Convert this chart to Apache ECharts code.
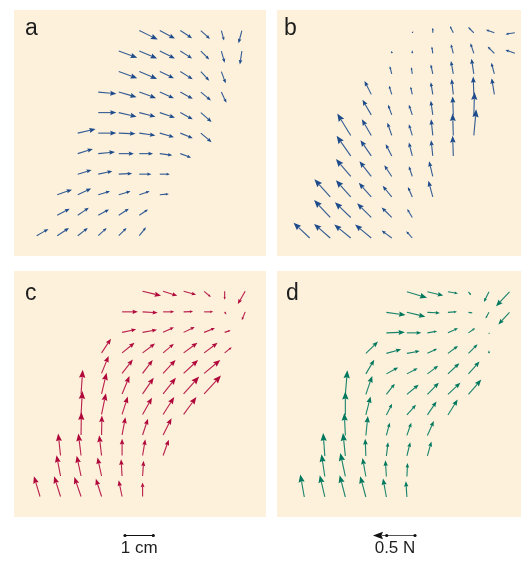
<!DOCTYPE html>
<html>
<head>
<meta charset="utf-8">
<script src="https://cdn.jsdelivr.net/npm/echarts@6/dist/echarts.min.js"></script>
<style>
  html, body { margin: 0; padding: 0; background: #ffffff; }
  #chart { width: 522px; height: 563px; }
</style>
</head>
<body>
<div id="chart"></div>
<script>
// Workspace sample points sit on a square grid; each entry is
// [column, row, Fx (mN), Fy (mN)] with y pointing up.
const GRID_PITCH_CM = 0.725;   // spacing between sample points
const CM_PER_N = 2.97;         // drawing scale for force vectors
const SCALE_LENGTH_CM = 1;     // length scale bar
const SCALE_FORCE_N = 0.5;     // force scale arrow

const fieldA = [
  [0,0,140,80],[1,0,140,92],[2,0,120,92],[3,0,100,92],[4,0,92,92],[5,0,80,100],
  [1,1,148,76],[2,1,132,88],[3,1,128,68],[4,1,120,76],[5,1,104,68],
  [1,2,176,60],[2,2,160,72],[3,2,140,40],[4,2,140,40],[5,2,124,40],[6,2,108,8],
  [2,3,164,48],[3,3,168,36],[4,3,160,8],[5,3,144,0],[6,3,120,0],
  [2,4,180,56],[3,4,200,20],[4,4,180,0],[5,4,164,0],[6,4,148,-20],[7,4,128,-48],
  [2,5,212,48],[3,5,216,0],[4,5,200,-8],[5,5,192,-28],[6,5,168,-48],[7,5,148,-60],[8,5,128,-108],
  [3,6,216,0],[4,6,212,-48],[5,6,192,-48],[6,6,180,-60],[7,6,148,-80],[8,6,128,-112],
  [3,7,216,-20],[4,7,212,-60],[5,7,200,-72],[6,7,168,-72],[7,7,148,-80],[8,7,120,-100],[9,7,60,-128],
  [4,8,220,-80],[5,8,212,-88],[6,8,168,-80],[7,8,148,-92],[8,8,100,-108],[9,8,52,-140],
  [4,9,220,-80],[5,9,212,-88],[6,9,180,-88],[7,9,140,-88],[8,9,100,-100],[9,9,40,-140],[10,9,-24,-160],
  [5,10,220,-108],[6,10,180,-96],[7,10,140,-92],[8,10,108,-100],[9,10,32,-120],[10,10,-40,-152]
];

const fieldB = [
  [0,0,-192,180],[1,0,-192,168],[2,0,-196,160],[3,0,-192,160],[4,0,-120,88],[5,0,-72,80],
  [1,1,-192,208],[2,1,-188,180],[3,1,-168,168],[4,1,-120,120],[5,1,-60,100],
  [1,2,-188,212],[2,2,-176,200],[3,2,-148,168],[4,2,-108,132],[5,2,-52,120],[6,2,-52,192],
  [2,3,-176,208],[3,3,-140,180],[4,3,-88,132],[5,3,-40,120],[6,3,-44,180],
  [2,4,-168,240],[3,4,-128,188],[4,4,-72,140],[5,4,-40,160],[6,4,-20,188],[7,4,-8,240],
  [2,5,-160,260],[3,5,-112,192],[4,5,-52,152],[5,5,-40,132],[6,5,-20,192],[7,5,-8,260],[8,5,28,312],
  [3,6,-104,180],[4,6,-44,120],[5,6,-40,120],[6,6,-24,168],[7,6,-8,220],[8,6,8,272],
  [3,7,-80,160],[4,7,-32,104],[5,7,-20,92],[6,7,-24,144],[7,7,-20,184],[8,7,-8,212],[9,7,-32,192],
  [4,8,-24,92],[5,8,-12,80],[6,8,-24,112],[7,8,-28,152],[8,8,-28,180],[9,8,-36,132],
  [4,9,0,32],[5,9,0,36],[6,9,-12,80],[7,9,-28,108],[8,9,-40,120],[9,9,-80,80],[10,9,-112,40],
  [5,10,12,20],[6,10,0,60],[7,10,-40,80],[8,10,-68,68],[9,10,-100,36],[10,10,-112,-16]
];

const fieldC = [
  [0,0,-72,240],[1,0,-76,240],[2,0,-80,232],[3,0,-68,212],[4,0,-40,192],[5,0,0,168],
  [1,1,-48,248],[2,1,-52,240],[3,1,-48,220],[4,1,-12,200],[5,1,12,180],
  [1,2,-28,260],[2,2,-32,260],[3,2,-28,240],[4,2,0,200],[5,2,32,192],[6,2,68,188],
  [2,3,4,272],[3,3,4,232],[4,3,40,212],[5,3,64,192],[6,3,100,200],
  [2,4,16,280],[3,4,52,252],[4,4,68,212],[5,4,112,200],[6,4,132,208],[7,4,152,208],
  [2,5,20,288],[3,5,60,252],[4,5,88,212],[5,5,132,192],[6,5,152,192],[7,5,184,208],[8,5,200,220],
  [3,6,84,208],[4,6,128,164],[5,6,120,160],[6,6,148,160],[7,6,172,160],[8,6,192,160],
  [3,7,112,168],[4,7,148,120],[5,7,148,112],[6,7,128,108],[7,7,164,120],[8,7,160,120],[9,7,84,68],
  [4,8,168,36],[5,8,172,32],[6,8,128,60],[7,8,132,64],[8,8,128,52],[9,8,72,24],
  [4,9,188,0],[5,9,180,-12],[6,9,132,0],[7,9,112,4],[8,9,108,0],[9,9,20,-32],[10,9,-40,-100],
  [5,10,220,-52],[6,10,168,-52],[7,10,148,-40],[8,10,80,-68],[9,10,0,-100],[10,10,-88,-152]
];

const fieldD = [
  [0,0,-48,268],[1,0,-60,260],[2,0,-68,260],[3,0,-68,248],[4,0,-40,220],[5,0,-12,188],
  [1,1,-40,264],[2,1,-60,280],[3,1,-40,220],[4,1,-12,192],[5,1,8,160],
  [1,2,-20,272],[2,2,-28,272],[3,2,-8,204],[4,2,20,164],[5,2,40,164],[6,2,48,172],
  [2,3,-12,268],[3,3,24,232],[4,3,40,152],[5,3,52,152],[6,3,76,172],
  [2,4,0,280],[3,4,56,220],[4,4,68,132],[5,4,108,120],[6,4,108,160],[7,4,116,184],
  [2,5,24,288],[3,5,76,220],[4,5,100,128],[5,5,140,116],[6,5,136,140],[7,5,148,140],[8,5,152,176],
  [3,6,100,168],[4,6,140,76],[5,6,128,68],[6,6,128,96],[7,6,136,128],[8,6,132,148],
  [3,7,144,140],[4,7,176,48],[5,7,152,28],[6,7,116,56],[7,7,120,88],[8,7,108,108],[9,7,0,36],
  [4,8,220,8],[5,8,172,0],[6,8,116,20],[7,8,120,56],[8,8,80,56],[9,8,4,-12],
  [4,9,228,-32],[5,9,220,-52],[6,9,148,-8],[7,9,108,8],[8,9,52,-8],[9,9,-40,-72],[10,9,-132,-144],
  [5,10,240,-72],[6,10,188,-44],[7,10,120,-20],[8,10,32,-40],[9,10,-60,-120],[10,10,-160,-172]
];

const panelLabels = ['a', 'b', 'c', 'd'];
const fields = [fieldA, fieldB, fieldC, fieldD];
const fieldColors = ['#1d4b8b', '#1d4b8b', '#b1083b', '#00785e'];

// Panel frames: pixel box and the workspace window (cm) shown in it
const PX_PER_CM = 28.3;
const panels = [
  { left: 14,  top: 10,  width: 252, height: 246, x0: -0.802, y0: -0.717, lx: 25,  ly: 17 },
  { left: 277, top: 10,  width: 244, height: 246, x0: -1.155, y0: -0.636, lx: 284, ly: 17 },
  { left: 14,  top: 271, width: 252, height: 246, x0: -0.919, y0: -0.724, lx: 25,  ly: 282 },
  { left: 277, top: 271, width: 244, height: 246, x0: -0.965, y0: -0.707, lx: 286, ly: 282 }
];

function arrowShapes(tail, tip, color) {
  const dx = tip[0] - tail[0], dy = tip[1] - tail[1];
  const L = Math.hypot(dx, dy);
  if (L < 0.3) return [];
  const ux = dx / L, uy = dy / L;
  const hl = Math.min(L, Math.min(8, Math.max(2.4, 0.34 * L)));
  const hw = hl * 0.4;
  const bx = tip[0] - ux * hl, by = tip[1] - uy * hl;
  return [
    { type: 'line', shape: { x1: tail[0], y1: tail[1], x2: bx + ux * 0.8, y2: by + uy * 0.8 },
      style: { stroke: color, lineWidth: 1.1, opacity: 0.9 } },
    { type: 'polygon', shape: { points: [[tip[0], tip[1]], [bx - uy * hw, by + ux * hw], [bx + ux * hl * 0.12, by + uy * hl * 0.12], [bx + uy * hw, by - ux * hw]] },
      style: { fill: color } }
  ];
}

function makeRenderer(color) {
  return function (params, api) {
    const x = api.value(0) * GRID_PITCH_CM;
    const y = api.value(1) * GRID_PITCH_CM;
    const fx = api.value(2) / 1000 * CM_PER_N;
    const fy = api.value(3) / 1000 * CM_PER_N;
    const tail = api.coord([x, y]);
    const tip = api.coord([x + fx, y + fy]);
    return { type: 'group', children: arrowShapes(tail, tip, color) };
  };
}

const chart = echarts.init(document.getElementById('chart'), null, { renderer: 'canvas' });

const option = {
  animation: false,
  backgroundColor: '#ffffff',
  title: panels.map((p, i) => ({
    text: panelLabels[i], left: p.lx, top: p.ly, padding: 0,
    textStyle: { fontFamily: 'Liberation Sans, Arial, sans-serif', fontSize: 23, fontWeight: 'normal', color: '#1e1e1e' }
  })),
  grid: panels.map(p => ({
    left: p.left, top: p.top, width: p.width, height: p.height,
    show: true, backgroundColor: '#fdf1dc', borderWidth: 0, containLabel: false
  })),
  xAxis: panels.map((p, i) => ({
    type: 'value', gridIndex: i, show: false,
    min: p.x0, max: p.x0 + p.width / PX_PER_CM
  })),
  yAxis: panels.map((p, i) => ({
    type: 'value', gridIndex: i, show: false,
    min: p.y0, max: p.y0 + p.height / PX_PER_CM
  })),
  series: fields.map((f, i) => ({
    type: 'custom', xAxisIndex: i, yAxisIndex: i,
    renderItem: makeRenderer(fieldColors[i]),
    data: f, silent: true, clip: false
  }))
};
chart.setOption(option);

// Scale bars, sized through the panel axes
const o = chart.convertToPixel({ gridIndex: 2 }, [0, 0]);
const e = chart.convertToPixel({ gridIndex: 2 }, [SCALE_LENGTH_CM, 0]);
const pxPerCm = e[0] - o[0];
const cmLen = SCALE_LENGTH_CM * pxPerCm;
const forceLen = SCALE_FORCE_N * CM_PER_N * pxPerCm;

const barY = 535.5;
const cmX0 = 125, cmX1 = cmX0 + cmLen;
const nTail = 415, nTip = nTail - forceLen;
const dotR = 1.6;
const ink = '#111111';

const graphic = [
  { type: 'line', shape: { x1: cmX0, y1: barY, x2: cmX1, y2: barY }, style: { stroke: ink, lineWidth: 1 } },
  { type: 'circle', shape: { cx: cmX0, cy: barY, r: dotR }, style: { fill: ink } },
  { type: 'circle', shape: { cx: cmX1, cy: barY, r: dotR }, style: { fill: ink } },
  { type: 'text', x: (cmX0 + cmX1) / 2, y: 557, style: {
      text: '1 cm', fill: '#1e1e1e', font: '17px "Liberation Sans", Arial, sans-serif',
      textAlign: 'center', textVerticalAlign: 'bottom' } },
  { type: 'line', shape: { x1: nTail, y1: barY, x2: nTip + 9, y2: barY }, style: { stroke: '#555', lineWidth: 1 } },
  { type: 'polygon', shape: { points: [[nTip, barY], [nTip + 10, barY - 3.8], [nTip + 8.5, barY], [nTip + 10, barY + 3.8]] }, style: { fill: ink } },
  { type: 'circle', shape: { cx: nTail, cy: barY, r: dotR }, style: { fill: ink } },
  { type: 'circle', shape: { cx: nTail - cmLen, cy: barY, r: dotR }, style: { fill: ink } },
  { type: 'text', x: (nTip + nTail) / 2 + 1, y: 557, style: {
      text: '0.5 N', fill: '#1e1e1e', font: '17px "Liberation Sans", Arial, sans-serif',
      textAlign: 'center', textVerticalAlign: 'bottom' } }
];
chart.setOption({ graphic: graphic });
</script>
</body>
</html>
